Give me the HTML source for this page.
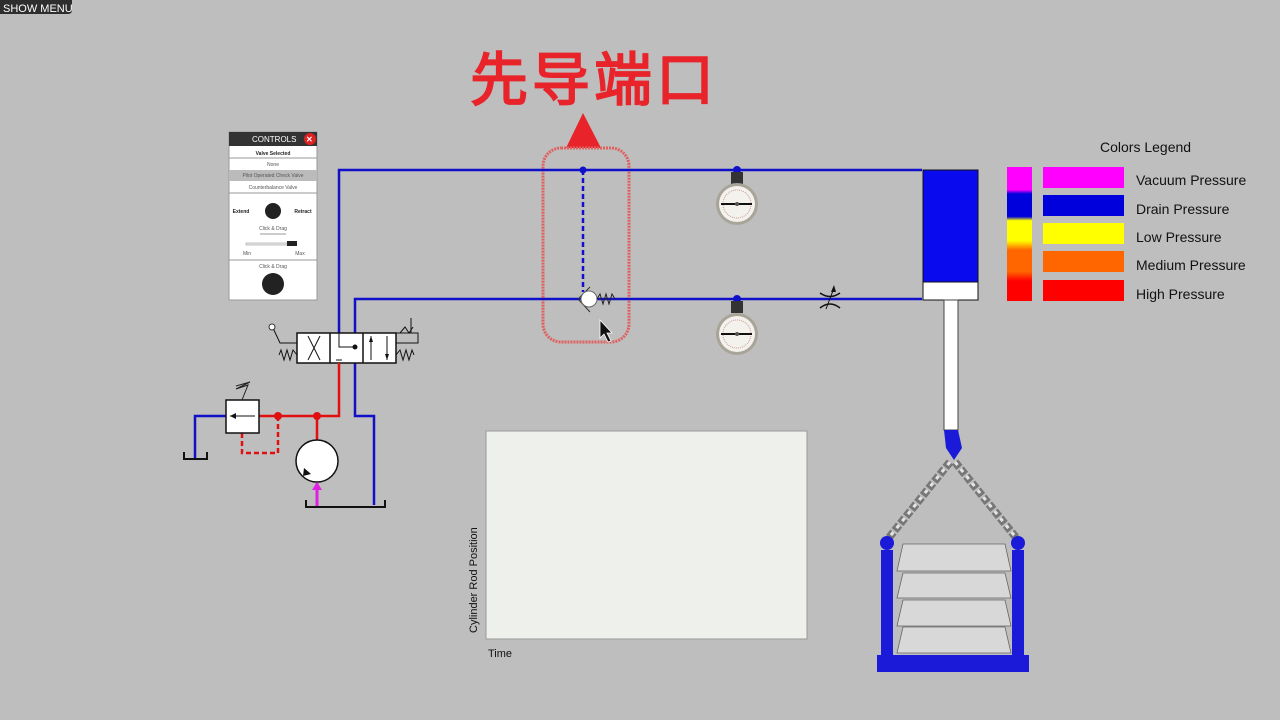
<!DOCTYPE html>
<html><head><meta charset="utf-8"><style>
html,body{margin:0;padding:0;width:1280px;height:720px;overflow:hidden;background:#bebebe}
svg{display:block}
text{font-family:"Liberation Sans",sans-serif}
</style></head><body>
<svg width="1280" height="720" viewBox="0 0 1280 720" xmlns="http://www.w3.org/2000/svg">
<rect width="1280" height="720" fill="#bebebe"/>
<path d="M0 0H72V10Q72 14 68 14H0Z" fill="#2e2e2e"/>
<text x="3" y="12" font-size="11" fill="#fff">SHOW MENU</text>
<text x="470" y="100" font-size="58" fill="#e8232a" font-family="'Noto Serif CJK SC','Noto Serif CJK JP',serif" font-weight="600" letter-spacing="4">先导端口</text>
<polygon points="583,113 566,148 601,148" fill="#e8232a"/>
<rect x="543" y="148" width="86" height="194" rx="18" fill="none" stroke="#e06060" stroke-width="3" stroke-dasharray="2 1"/>
<g stroke="#1010c8" stroke-width="2.5" fill="none">
<polyline points="339,333 339,170 922,170"/>
<polyline points="355,333 355,299 922,299"/>
<line x1="583" y1="170" x2="583" y2="292" stroke-dasharray="5 3"/>
<polyline points="226,416 195,416 195,458"/>
<polyline points="355,363 355,416 374,416 374,505"/>
</g>
<circle cx="583" cy="170" r="3.5" fill="#1010c8"/>
<circle cx="737" cy="170" r="4" fill="#1010c8"/>
<circle cx="737" cy="299" r="4" fill="#1010c8"/>
<polyline points="590,287 578,299 590,312" fill="none" stroke="#333" stroke-width="1"/>
<circle cx="589" cy="299" r="8" fill="#fff" stroke="#666"/>
<polyline points="597,299 600,294 603,304 606,294 609,304 612,294 615,299" fill="none" stroke="#222" stroke-width="1"/>
<polygon points="600,320 600,338 604,334 608,342 611,341 607,333 612,333" fill="#111" stroke="#fff" stroke-width="0.8"/>
<g>
<rect x="731" y="172" width="12" height="12" fill="#333"/>
<circle cx="737" cy="204" r="21" fill="#a8a498"/><circle cx="737" cy="204" r="18" fill="#f4f2ec"/>
<circle cx="737" cy="204" r="14" fill="none" stroke="#c99" stroke-width="1" stroke-dasharray="1 1"/>
<line x1="721" y1="204" x2="752" y2="204" stroke="#111" stroke-width="2"/><circle cx="737" cy="204" r="2" fill="#555"/>
<rect x="731" y="301" width="12" height="12" fill="#333"/>
<circle cx="737" cy="334" r="21" fill="#a8a498"/><circle cx="737" cy="334" r="18" fill="#f4f2ec"/>
<circle cx="737" cy="334" r="14" fill="none" stroke="#c99" stroke-width="1" stroke-dasharray="1 1"/>
<line x1="721" y1="334" x2="752" y2="334" stroke="#111" stroke-width="2"/><circle cx="737" cy="334" r="2" fill="#555"/>
</g>
<path d="M820 293Q830 300 840 293M820 308Q830 300 840 308" fill="none" stroke="#111" stroke-width="1.5"/>
<line x1="826" y1="309" x2="834" y2="288" stroke="#111"/><polygon points="834,285 831,292 836,292" fill="#111"/>
<rect x="923" y="170" width="55" height="112" fill="#0a0aee" stroke="#111"/>
<rect x="923" y="282" width="55" height="18" fill="#fff" stroke="#111"/>
<rect x="944" y="300" width="14" height="130" fill="#fff" stroke="#444"/>
<path d="M944 430h14l4 18-8 12-8-12z" fill="#1a1ad8"/>
<g stroke="#777" stroke-width="8" stroke-dasharray="7 2" fill="none">
<line x1="950" y1="462" x2="887" y2="540"/><line x1="955" y1="462" x2="1018" y2="540"/></g>
<g stroke="#e4e4e4" stroke-width="3" stroke-dasharray="4 5" fill="none">
<line x1="950" y1="462" x2="887" y2="540"/><line x1="955" y1="462" x2="1018" y2="540"/></g>
<circle cx="887" cy="543" r="7" fill="#1a1ad8"/><circle cx="1018" cy="543" r="7" fill="#1a1ad8"/>
<rect x="881" y="550" width="12" height="108" fill="#1a1ad8"/><rect x="1012" y="550" width="12" height="108" fill="#1a1ad8"/>
<g fill="#d8d8d8" stroke="#666" stroke-width="0.8">
<polygon points="897,653 1011,653 1005,627 903,627"/>
<polygon points="897,626 1011,626 1005,600 903,600"/>
<polygon points="897,598 1011,598 1005,573 903,573"/>
<polygon points="897,571 1011,571 1005,544 903,544"/></g>
<rect x="877" y="655" width="152" height="17" fill="#1a1ad8"/>
<text x="1100" y="152" font-size="14" fill="#111">Colors Legend</text>
<defs><linearGradient id="lg" x1="0" y1="0" x2="0" y2="1">
<stop offset="0" stop-color="#f0f"/><stop offset=".17" stop-color="#f0f"/><stop offset=".2" stop-color="#00d"/><stop offset=".37" stop-color="#00d"/><stop offset=".4" stop-color="#ff0"/><stop offset=".55" stop-color="#ff0"/><stop offset=".62" stop-color="#f60"/><stop offset=".78" stop-color="#f60"/><stop offset=".85" stop-color="#f00"/><stop offset="1" stop-color="#f00"/></linearGradient></defs>
<rect x="1007" y="167" width="25" height="134" fill="url(#lg)"/>
<rect x="1043" y="167" width="81" height="21" fill="#f0f"/>
<rect x="1043" y="195" width="81" height="21" fill="#00d"/>
<rect x="1043" y="223" width="81" height="21" fill="#ff0"/>
<rect x="1043" y="251" width="81" height="21" fill="#f60"/>
<rect x="1043" y="280" width="81" height="21" fill="#f00"/>
<g font-size="14" fill="#111">
<text x="1136" y="185">Vacuum Pressure</text><text x="1136" y="214">Drain Pressure</text>
<text x="1136" y="242">Low Pressure</text><text x="1136" y="270">Medium Pressure</text>
<text x="1136" y="299">High Pressure</text></g>
<rect x="229" y="132" width="88" height="168" fill="#fff" stroke="#999"/>
<rect x="229" y="132" width="88" height="14" fill="#333"/>
<text x="252" y="142" font-size="8" fill="#fff">CONTROLS</text>
<circle cx="310" cy="139" r="6" fill="#d22"/><text x="306" y="142" font-size="8" fill="#fff" font-weight="bold">✕</text>
<g font-size="5" fill="#555" text-anchor="middle">
<text x="273" y="155" font-weight="bold" fill="#222">Valve Selected</text>
<line x1="229" y1="158" x2="317" y2="158" stroke="#999"/>
<text x="273" y="166">None</text>
<rect x="229" y="170" width="88" height="11" fill="#bbb"/>
<text x="273" y="177">Pilot Operated Check Valve</text>
<text x="273" y="189">Counterbalance Valve</text>
<line x1="229" y1="193" x2="317" y2="193" stroke="#999"/>
<text x="241" y="213" font-weight="bold" fill="#222">Extend</text><text x="303" y="213" font-weight="bold" fill="#222">Retract</text>
<text x="273" y="230">Click &amp; Drag</text>
<text x="247" y="255">Min</text><text x="300" y="255">Max</text>
<text x="273" y="268">Click &amp; Drag</text></g>
<circle cx="273" cy="211" r="8" fill="#222"/>
<line x1="260" y1="234" x2="286" y2="234" stroke="#333" stroke-width="0.6"/>
<rect x="246" y="243" width="50" height="2" fill="#eee" stroke="#888" stroke-width="0.5"/><rect x="287" y="241" width="10" height="5" fill="#222"/>
<line x1="229" y1="260" x2="317" y2="260" stroke="#999"/>
<circle cx="273" cy="284" r="11" fill="#222"/>
<rect x="297" y="333" width="99" height="30" fill="#fff" stroke="#111" stroke-width="1.5"/>
<line x1="330" y1="333" x2="330" y2="363" stroke="#111" stroke-width="1.5"/><line x1="363" y1="333" x2="363" y2="363" stroke="#111" stroke-width="1.5"/>
<g stroke="#111" stroke-width="1" fill="none">
<line x1="308" y1="336" x2="320" y2="360"/><line x1="308" y1="360" x2="320" y2="336"/>
<polyline points="339,333 339,347 355,347"/><line x1="336" y1="360" x2="342" y2="360"/>
<line x1="371" y1="336" x2="371" y2="360"/><line x1="387" y1="336" x2="387" y2="360"/>
<polyline points="396,333 418,333 418,343 396,343"/><polyline points="400,333 405,327 409,333 413,327"/><line x1="411" y1="318" x2="411" y2="333"/>
<polyline points="297,343 280,343 273,328"/>
<polyline points="297,355 293,350 290,360 287,350 284,360 281,350 279,355"/>
<polyline points="396,355 400,350 403,360 406,350 409,360 412,350 414,355"/>
</g>
<circle cx="272" cy="327" r="3" fill="#fff" stroke="#333"/>
<circle cx="355" cy="347" r="2.5" fill="#111"/>
<polygon points="371,336 369,342 373,342" fill="#111"/><polygon points="387,360 385,354 389,354" fill="#111"/>
<g stroke="#e01010" stroke-width="2.5" fill="none">
<polyline points="339,363 339,416 259,416"/><line x1="317" y1="416" x2="317" y2="440"/>
<polyline points="242,433 242,453 278,453 278,416" stroke-dasharray="5 3"/></g>
<circle cx="278" cy="416" r="4" fill="#e01010"/><circle cx="317" cy="416" r="4" fill="#e01010"/>
<rect x="226" y="400" width="33" height="33" fill="#fff" stroke="#111" stroke-width="1.5"/>
<line x1="230" y1="416" x2="255" y2="416" stroke="#111"/><polygon points="230,416 236,413 236,419" fill="#111"/>
<polyline points="242,400 248,385 236,389 250,382 236,386" fill="none" stroke="#222"/>
<polyline points="184,452 184,459 207,459 207,452" fill="none" stroke="#111" stroke-width="2"/>
<polyline points="306,500 306,507 385,507 385,500" fill="none" stroke="#111" stroke-width="2"/>
<circle cx="317" cy="461" r="21" fill="#fff" stroke="#111" stroke-width="1.5"/>
<polygon points="304,468 311,474 303,476" fill="#111"/>
<line x1="317" y1="483" x2="317" y2="506" stroke="#e020e0" stroke-width="3"/><polygon points="317,482 312,490 322,490" fill="#e020e0"/>
<rect x="486" y="431" width="321" height="208" fill="#eef0ec" stroke="#999"/>
<text x="488" y="657" font-size="11" fill="#111">Time</text>
<text transform="translate(477,633) rotate(-90)" font-size="11" fill="#111">Cylinder Rod Position</text>
</svg>
</body></html>
